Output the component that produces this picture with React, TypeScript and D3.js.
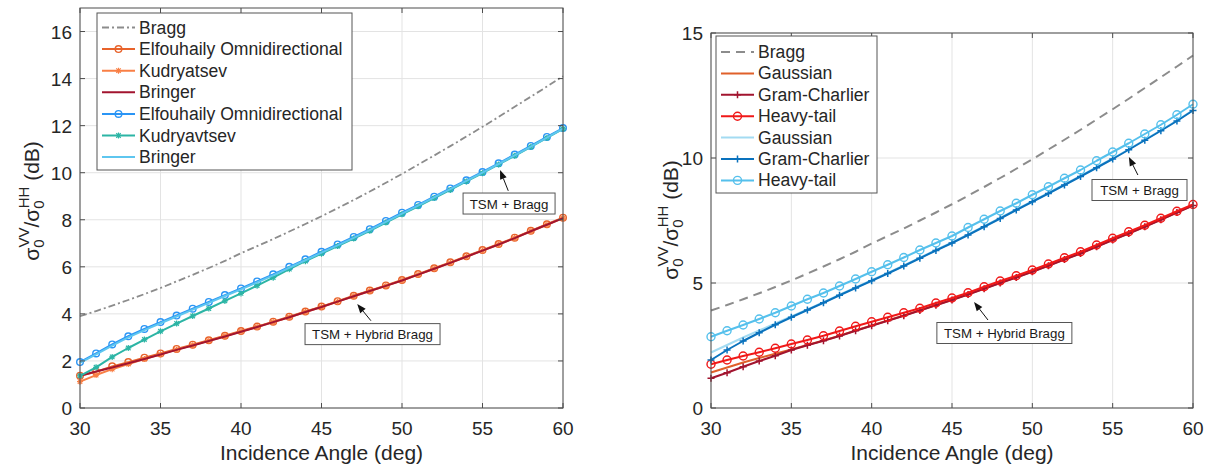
import React from "react";
import * as d3 from "d3";

// ---------- data ----------
const angles = [30, 31, 32, 33, 34, 35, 36, 37, 38, 39, 40, 41, 42, 43, 44, 45, 46, 47, 48, 49, 50, 51, 52, 53, 54, 55, 56, 57, 58, 59, 60];
const xTicks = [30, 35, 40, 45, 50, 55, 60];
const leftYTicks = [0, 2, 4, 6, 8, 10, 12, 14, 16];
const rightYTicks = [0, 5, 10, 15];

const braggRatio = [3.9, 4.12, 4.35, 4.59, 4.84, 5.1, 5.38, 5.66, 5.95, 6.25, 6.58, 6.88, 7.18, 7.5, 7.82, 8.15, 8.49, 8.84, 9.2, 9.57, 9.95, 10.34, 10.73, 11.13, 11.54, 11.95, 12.37, 12.8, 13.23, 13.66, 14.1];

// left panel: TSM + Hybrid Bragg
const hybElfouhaily = [1.37, 1.54, 1.77, 1.95, 2.14, 2.32, 2.51, 2.69, 2.88, 3.07, 3.27, 3.46, 3.67, 3.88, 4.1, 4.31, 4.54, 4.77, 4.99, 5.21, 5.44, 5.69, 5.94, 6.19, 6.45, 6.71, 6.97, 7.24, 7.53, 7.81, 8.09];
const hybKudryatsev = [1.12, 1.4, 1.65, 1.87, 2.08, 2.28, 2.48, 2.67, 2.86, 3.05, 3.25, 3.44, 3.65, 3.86, 4.08, 4.29, 4.52, 4.75, 4.97, 5.19, 5.42, 5.67, 5.92, 6.17, 6.43, 6.69, 6.95, 7.22, 7.51, 7.79, 8.07];
const hybBringer = [1.37, 1.55, 1.72, 1.9, 2.08, 2.27, 2.47, 2.66, 2.85, 3.04, 3.24, 3.44, 3.65, 3.86, 4.08, 4.29, 4.52, 4.75, 4.97, 5.19, 5.42, 5.67, 5.92, 6.17, 6.43, 6.69, 6.95, 7.22, 7.51, 7.79, 8.07];
// left panel: TSM + Bragg
const tsmElfouhaily = [1.95, 2.32, 2.7, 3.05, 3.36, 3.65, 3.93, 4.22, 4.51, 4.8, 5.08, 5.38, 5.68, 6.0, 6.32, 6.64, 6.95, 7.27, 7.6, 7.95, 8.3, 8.63, 8.98, 9.33, 9.68, 10.03, 10.4, 10.77, 11.14, 11.52, 11.9];
const tsmKudryavtsev = [1.37, 1.73, 2.17, 2.55, 2.91, 3.26, 3.59, 3.91, 4.23, 4.55, 4.87, 5.2, 5.54, 5.9, 6.24, 6.56, 6.88, 7.2, 7.53, 7.88, 8.23, 8.57, 8.92, 9.27, 9.63, 9.98, 10.35, 10.72, 11.1, 11.48, 11.86];
const tsmBringer = [1.92, 2.28, 2.65, 3.0, 3.31, 3.6, 3.89, 4.18, 4.47, 4.76, 5.04, 5.34, 5.64, 5.96, 6.28, 6.6, 6.91, 7.23, 7.56, 7.91, 8.26, 8.6, 8.95, 9.3, 9.65, 10.0, 10.37, 10.74, 11.11, 11.49, 11.87];

// right panel: TSM + Hybrid Bragg
const hybGaussian = [1.42, 1.62, 1.82, 2.0, 2.17, 2.34, 2.52, 2.7, 2.89, 3.1, 3.3, 3.5, 3.7, 3.91, 4.12, 4.33, 4.55, 4.78, 5.01, 5.23, 5.46, 5.7, 5.95, 6.19, 6.46, 6.73, 6.99, 7.26, 7.54, 7.83, 8.11];
const hybGramCharlier = [1.19, 1.41, 1.65, 1.88, 2.09, 2.32, 2.51, 2.69, 2.88, 3.09, 3.29, 3.49, 3.69, 3.9, 4.11, 4.32, 4.54, 4.77, 5.0, 5.22, 5.45, 5.69, 5.94, 6.18, 6.45, 6.72, 6.98, 7.25, 7.53, 7.82, 8.1];
const hybHeavyTail = [1.75, 1.92, 2.08, 2.23, 2.39, 2.56, 2.72, 2.89, 3.08, 3.27, 3.45, 3.63, 3.81, 3.99, 4.2, 4.4, 4.61, 4.85, 5.08, 5.29, 5.52, 5.76, 6.01, 6.25, 6.52, 6.79, 7.05, 7.31, 7.59, 7.87, 8.14];
// right panel: TSM + Bragg
const tsmGaussian = [2.22, 2.52, 2.82, 3.1, 3.38, 3.66, 3.94, 4.23, 4.53, 4.82, 5.11, 5.4, 5.7, 6.01, 6.32, 6.62, 6.94, 7.27, 7.6, 7.94, 8.27, 8.6, 8.94, 9.28, 9.63, 9.98, 10.35, 10.73, 11.11, 11.5, 11.92];
const tsmGramCharlier = [1.92, 2.32, 2.68, 3.01, 3.33, 3.63, 3.92, 4.21, 4.51, 4.8, 5.09, 5.38, 5.68, 5.99, 6.3, 6.6, 6.92, 7.25, 7.58, 7.92, 8.25, 8.58, 8.92, 9.26, 9.61, 9.96, 10.33, 10.71, 11.09, 11.48, 11.9];
const tsmHeavyTail = [2.85, 3.09, 3.32, 3.56, 3.81, 4.08, 4.35, 4.6, 4.88, 5.16, 5.45, 5.73, 6.02, 6.32, 6.6, 6.88, 7.22, 7.55, 7.88, 8.19, 8.53, 8.85, 9.19, 9.52, 9.89, 10.24, 10.59, 10.96, 11.33, 11.73, 12.15];

// ---------- styling ----------
const FONT = "'Liberation Sans', Arial, Helvetica, sans-serif";
type Marker = "none" | "circle" | "asterisk" | "plus";
type Series = { name: string; values: number[]; color: string; width: number; dash?: string; marker: Marker; ms: number };

const leftSeries: Series[] = [
  { name: "Bragg", values: braggRatio, color: "#8c8c8c", width: 1.8, dash: "7,3,2,3", marker: "none", ms: 0 },
  { name: "Elfouhaily Omnidirectional", values: hybElfouhaily, color: "#e8632b", width: 2, marker: "circle", ms: 3.3 },
  { name: "Kudryatsev", values: hybKudryatsev, color: "#f97f45", width: 2, marker: "asterisk", ms: 3 },
  { name: "Bringer", values: hybBringer, color: "#a2142f", width: 2, marker: "none", ms: 0 },
  { name: "Elfouhaily Omnidirectional", values: tsmElfouhaily, color: "#2a95f5", width: 2, marker: "circle", ms: 3.3 },
  { name: "Kudryavtsev", values: tsmKudryavtsev, color: "#2cb5a5", width: 2, marker: "asterisk", ms: 3 },
  { name: "Bringer", values: tsmBringer, color: "#5ec6ef", width: 2, marker: "none", ms: 0 },
];

const rightSeries: Series[] = [
  { name: "Bragg", values: braggRatio, color: "#8c8c8c", width: 2, dash: "9,6", marker: "none", ms: 0 },
  { name: "Gaussian", values: hybGaussian, color: "#e0602a", width: 2, marker: "none", ms: 0 },
  { name: "Gram-Charlier", values: hybGramCharlier, color: "#a2142f", width: 2, marker: "plus", ms: 3.5 },
  { name: "Heavy-tail", values: hybHeavyTail, color: "#f01818", width: 2, marker: "circle", ms: 4 },
  { name: "Gaussian", values: tsmGaussian, color: "#a3dbf2", width: 2, marker: "none", ms: 0 },
  { name: "Gram-Charlier", values: tsmGramCharlier, color: "#0a72bd", width: 2, marker: "plus", ms: 3.5 },
  { name: "Heavy-tail", values: tsmHeavyTail, color: "#55c0ec", width: 2, marker: "circle", ms: 4 },
];

type Annot = { text: string; bx: number; by: number; bw: number; tx: number; ty: number; hx: number; hy: number };

type PanelCfg = {
  left: number; right: number; top: number; bottom: number; yMax: number; yTicks: number[];
  series: Series[];
  legend: { x: number; y: number; w: number; h: number; row0: number; rowH: number; l0: number; l1: number; tx: number };
  annots: Annot[];
  ylab: { x: number; y: number };
};

const leftCfg: PanelCfg = {
  left: 80, right: 563, top: 8, bottom: 408, yMax: 17, yTicks: leftYTicks, series: leftSeries,
  legend: { x: 97, y: 13, w: 255, h: 157, row0: 27.5, rowH: 21.6, l0: 102, l1: 135, tx: 139 },
  annots: [
    { text: "TSM + Bragg", bx: 56.65, by: 8.69, bw: 92, tx: 56.6, ty: 9.23, hx: 56.09, hy: 10.11 },
    { text: "TSM + Hybrid Bragg", bx: 48.17, by: 3.14, bw: 135, tx: 48.07, ty: 3.71, hx: 47.22, hy: 4.42 },
  ],
  ylab: { x: 39, y: 201 },
};

const rightCfg: PanelCfg = {
  left: 711, right: 1193, top: 33, bottom: 408, yMax: 15, yTicks: rightYTicks, series: rightSeries,
  legend: { x: 716, y: 36, w: 161, h: 157, row0: 52, rowH: 21.4, l0: 721, l1: 754, tx: 758 },
  annots: [
    { text: "TSM + Bragg", bx: 56.67, by: 8.72, bw: 95, tx: 56.57, ty: 9.32, hx: 56.01, hy: 10.04 },
    { text: "TSM + Hybrid Bragg", bx: 48.26, by: 3.0, bw: 135, tx: 47.24, ty: 3.52, hx: 46.37, hy: 4.24 },
  ],
  ylab: { x: 678, y: 220 },
};

function MarkerShape({ type, x, y, size, color }: { type: Marker; x: number; y: number; size: number; color: string }) {
  if (type === "circle") return <circle cx={x} cy={y} r={size} fill="none" stroke={color} strokeWidth={1.4} />;
  if (type === "plus")
    return <path d={`M${x - size},${y}H${x + size}M${x},${y - size}V${y + size}`} stroke={color} strokeWidth={1.5} />;
  if (type === "asterisk") {
    const d = size * 0.75;
    return (
      <path
        d={`M${x - size},${y}H${x + size}M${x},${y - size}V${y + size}M${x - d},${y - d}L${x + d},${y + d}M${x - d},${y + d}L${x + d},${y - d}`}
        stroke={color}
        strokeWidth={1.2}
      />
    );
  }
  return null;
}

function Panel({ cfg }: { cfg: PanelCfg }) {
  const x = d3.scaleLinear().domain([30, 60]).range([cfg.left, cfg.right]);
  const y = d3.scaleLinear().domain([0, cfg.yMax]).range([cfg.bottom, cfg.top]);
  const line = d3
    .line<number>()
    .x((_, i) => x(angles[i]))
    .y((v) => y(v));
  const tick = 5;
  const axisColor = "#4d4d4d";
  const lg = cfg.legend;
  return (
    <g fontFamily={FONT}>
      <rect x={cfg.left} y={cfg.top} width={cfg.right - cfg.left} height={cfg.bottom - cfg.top} fill="#fff" />
      {xTicks.map((t) => (
        <line key={"gx" + t} x1={x(t)} x2={x(t)} y1={cfg.top} y2={cfg.bottom} stroke="#e3e3e3" strokeWidth={1} />
      ))}
      {cfg.yTicks.map((t) => (
        <line key={"gy" + t} x1={cfg.left} x2={cfg.right} y1={y(t)} y2={y(t)} stroke="#e3e3e3" strokeWidth={1} />
      ))}
      {/* series */}
      {cfg.series.map((s, si) => (
        <g key={"s" + si}>
          <path d={line(s.values) || ""} fill="none" stroke={s.color} strokeWidth={s.width} strokeDasharray={s.dash} strokeLinejoin="round" />
          {s.marker !== "none" &&
            s.values.map((v, i) => <MarkerShape key={i} type={s.marker} x={x(angles[i])} y={y(v)} size={s.ms} color={s.color} />)}
        </g>
      ))}
      {/* axes box and ticks */}
      <rect x={cfg.left} y={cfg.top} width={cfg.right - cfg.left} height={cfg.bottom - cfg.top} fill="none" stroke={axisColor} strokeWidth={1} />
      {xTicks.map((t) => (
        <g key={"tx" + t}>
          <line x1={x(t)} x2={x(t)} y1={cfg.bottom} y2={cfg.bottom - tick} stroke={axisColor} />
          <line x1={x(t)} x2={x(t)} y1={cfg.top} y2={cfg.top + tick} stroke={axisColor} />
          <text x={x(t)} y={cfg.bottom + 27} textAnchor="middle" fontSize={19} fill="#262626">
            {t}
          </text>
        </g>
      ))}
      {cfg.yTicks.map((t) => (
        <g key={"ty" + t}>
          <line x1={cfg.left} x2={cfg.left + tick} y1={y(t)} y2={y(t)} stroke={axisColor} />
          <line x1={cfg.right} x2={cfg.right - tick} y1={y(t)} y2={y(t)} stroke={axisColor} />
          <text x={cfg.left - 8} y={y(t) + 7} textAnchor="end" fontSize={19} fill="#262626">
            {t}
          </text>
        </g>
      ))}
      <text x={(cfg.left + cfg.right) / 2} y={460} textAnchor="middle" fontSize={21} fill="#262626">
        Incidence Angle (deg)
      </text>
      <text transform={`translate(${cfg.ylab.x},${cfg.ylab.y}) rotate(-90)`} textAnchor="middle" fontSize={21} fill="#262626">
        <tspan>σ</tspan>
        <tspan fontSize={15} dy={5}>0</tspan>
        <tspan fontSize={15} dx={-8} dy={-15}>VV</tspan>
        <tspan dy={10}>/σ</tspan>
        <tspan fontSize={15} dy={5}>0</tspan>
        <tspan fontSize={15} dx={-8} dy={-15}>HH</tspan>
        <tspan dy={10}> (dB)</tspan>
      </text>
      {/* annotations */}
      {cfg.annots.map((a, i) => {
        const cx = x(a.bx);
        const cy = y(a.by);
        const tx = x(a.tx);
        const ty = y(a.ty);
        const hx = x(a.hx);
        const hy = y(a.hy);
        const ang = Math.atan2(hy - ty, hx - tx);
        const L = 9;
        const W2 = 3.5;
        const bx = hx - L * Math.cos(ang);
        const by = hy - L * Math.sin(ang);
        const px = -Math.sin(ang) * W2;
        const py = Math.cos(ang) * W2;
        return (
          <g key={"a" + i}>
            <rect x={cx - a.bw / 2} y={cy - 10.5} width={a.bw} height={21} fill="#fff" stroke="#555" strokeWidth={1} />
            <text x={cx} y={cy + 5} textAnchor="middle" fontSize={13.3} fill="#1a1a1a">
              {a.text}
            </text>
            <line x1={tx} y1={ty} x2={bx} y2={by} stroke="#111" strokeWidth={1} />
            <path d={`M${hx},${hy}L${bx + px},${by + py}L${bx - px},${by - py}Z`} fill="#111" />
          </g>
        );
      })}
      {/* legend */}
      <rect x={lg.x} y={lg.y} width={lg.w} height={lg.h} fill="#fff" stroke="#555" strokeWidth={1} />
      {cfg.series.map((s, i) => {
        const ry = lg.row0 + i * lg.rowH;
        return (
          <g key={"l" + i}>
            <line x1={lg.l0} x2={lg.l1} y1={ry} y2={ry} stroke={s.color} strokeWidth={s.width} strokeDasharray={s.dash} />
            {s.marker !== "none" && <MarkerShape type={s.marker} x={(lg.l0 + lg.l1) / 2} y={ry} size={s.ms} color={s.color} />}
            <text x={lg.tx} y={ry + 6} fontSize={17.6} fill="#262626">
              {s.name}
            </text>
          </g>
        );
      })}
    </g>
  );
}

export default function App() {
  return (
    <svg width={1214} height={469} style={{ position: "absolute", left: 0, top: 0, background: "#fff" }}>
      <rect width={1214} height={469} fill="#fff" />
      <Panel cfg={leftCfg} />
      <Panel cfg={rightCfg} />
    </svg>
  );
}
